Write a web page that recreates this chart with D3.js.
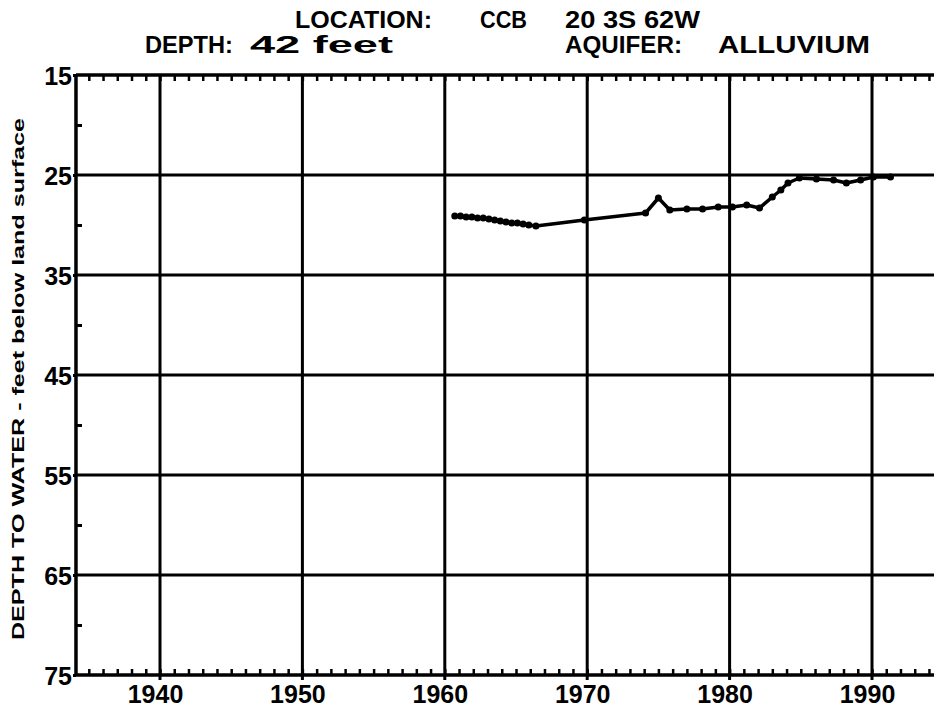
<!DOCTYPE html>
<html>
<head>
<meta charset="utf-8">
<script src="https://cdn.jsdelivr.net/npm/d3@7/dist/d3.min.js"></script>
<style>
  body { margin: 0; background: #fff; }
  svg { display: block; }
  text { font-family: "Liberation Sans", Arial, sans-serif; font-weight: bold; fill: #000; }
</style>
</head>
<body>
<svg id="chart" width="934" height="709"></svg>
<script>
var X_MIN = 1934.1;
var X_MAX = 1995;

// tick values
var decades = [1940, 1950, 1960, 1970, 1980, 1990];
var depthTicks = [15, 25, 35, 45, 55, 65, 75];
var depthMinor = [20, 30, 40, 50, 60, 70];
var years = d3.range(1935, 1995);

var obsYear = [1960.7, 1961.1, 1961.5, 1961.9, 1962.3, 1962.7, 1963.1, 1963.5, 1963.9,
    1964.3, 1964.7, 1965.1, 1965.5, 1965.9, 1966.4, 1969.8, 1974.1, 1975.0, 1975.8,
    1977.0, 1978.1, 1979.2, 1980.2, 1981.2, 1982.1, 1983.0, 1983.6, 1984.1, 1984.9,
    1986.1, 1987.3, 1988.2, 1989.2, 1990.1, 1991.3];
var obsDepth = [29.1, 29.1, 29.2, 29.2, 29.3, 29.3, 29.4, 29.5, 29.6,
    29.7, 29.8, 29.8, 29.9, 30.0, 30.1, 29.5, 28.8, 27.3, 28.5,
    28.4, 28.4, 28.2, 28.2, 28.0, 28.3, 27.2, 26.5, 25.8, 25.3,
    25.4, 25.5, 25.8, 25.5, 25.2, 25.2];

// title pieces: text, left, right, baseline
var titleParts = [
    ["LOCATION:", 295, 432, 28],
    ["CCB", 480, 527, 28],
    ["20 3S 62W", 565, 700, 28],
    ["DEPTH:", 145, 233, 53],
    ["42 feet", 250, 393, 53],
    ["AQUIFER:", 565, 682, 53],
    ["ALLUVIUM", 718, 870, 53]
];
var yTitle = "DEPTH TO WATER - feet below land surface";

var svg = d3.select("#chart");

var x = d3.scaleLinear().domain([1940, 1990]).range([160, 872]);
var y = d3.scaleLinear().domain([15, 75]).range([75, 675]);

var plotLeft = x(X_MIN), plotRight = x(X_MAX);
var plotTop = y(15), plotBottom = y(75);

// grid lines
svg.append("g").selectAll("line")
    .data(depthTicks.slice(1, -1))
    .enter().append("line")
    .attr("x1", plotLeft).attr("x2", plotRight)
    .attr("y1", function(d){ return y(d); })
    .attr("y2", function(d){ return y(d); })
    .style("stroke", "#000").style("stroke-width", 3);

svg.append("g").selectAll("line")
    .data(decades)
    .enter().append("line")
    .attr("x1", function(d){ return x(d); })
    .attr("x2", function(d){ return x(d); })
    .attr("y1", plotTop).attr("y2", plotBottom + 5)
    .style("stroke", "#000").style("stroke-width", 3);

// minor year ticks along top and bottom
var topTicks = svg.append("g")
    .attr("transform", "translate(0," + plotTop + ")")
    .call(d3.axisTop(x).tickValues(years).tickSize(-6).tickFormat(""));
var botTicks = svg.append("g")
    .attr("transform", "translate(0," + plotBottom + ")")
    .call(d3.axisBottom(x).tickValues(years).tickSize(-6).tickFormat(""));
[topTicks, botTicks].forEach(function(g){
    g.select(".domain").remove();
    g.selectAll("line").style("stroke", "#000").style("stroke-width", 2.5);
});

// frame
svg.append("line").attr("x1", plotLeft).attr("x2", plotRight).attr("y1", plotTop).attr("y2", plotTop)
    .style("stroke", "#000").style("stroke-width", 3.5);
svg.append("line").attr("x1", plotLeft).attr("x2", plotRight).attr("y1", plotBottom).attr("y2", plotBottom)
    .style("stroke", "#000").style("stroke-width", 3.5);
svg.append("line").attr("x1", plotLeft).attr("x2", plotLeft).attr("y1", plotTop).attr("y2", plotBottom)
    .style("stroke", "#000").style("stroke-width", 3.5);

// left axis: labels and minor ticks
var yAxis = svg.append("g")
    .attr("transform", "translate(" + plotLeft + ",0)")
    .call(d3.axisLeft(y).tickValues(depthTicks).tickSize(3).tickPadding(1));
yAxis.select(".domain").remove();
yAxis.selectAll("line").style("stroke", "#000").style("stroke-width", 3);
yAxis.selectAll("text")
    .style("font-size", "25px")
    .attr("dy", "0.36em");

var yMinor = svg.append("g")
    .attr("transform", "translate(" + plotLeft + ",0)")
    .call(d3.axisRight(y).tickValues(depthMinor).tickSize(6).tickFormat(""));
yMinor.select(".domain").remove();
yMinor.selectAll("line").style("stroke", "#000").style("stroke-width", 3);

// bottom axis labels
var xAxis = svg.append("g")
    .attr("transform", "translate(0," + plotBottom + ")")
    .call(d3.axisBottom(x).tickValues(decades).tickSize(0).tickPadding(10).tickFormat(d3.format("d")));
xAxis.select(".domain").remove();
xAxis.selectAll("text")
    .style("font-size", "25px")
    .attr("dx", "-5");

// data line
var line = d3.line()
    .x(function(d){ return x(d[0]); })
    .y(function(d){ return y(d[1]); });
var pts = obsYear.map(function(yr, i){ return [yr, obsDepth[i]]; });

svg.append("path")
    .datum(pts)
    .attr("d", line)
    .style("fill", "none")
    .style("stroke", "#000")
    .style("stroke-width", 3.5)
    .style("stroke-linejoin", "round");

svg.append("g").selectAll("circle")
    .data(pts)
    .enter().append("circle")
    .attr("cx", function(d){ return x(d[0]); })
    .attr("cy", function(d){ return y(d[1]); })
    .attr("r", 3.5)
    .style("fill", "#000");

// title
svg.append("g").selectAll("text")
    .data(titleParts)
    .enter().append("text")
    .attr("x", function(d){ return d[1]; })
    .attr("y", function(d){ return d[3]; })
    .attr("textLength", function(d){ return d[2] - d[1]; })
    .attr("lengthAdjust", "spacingAndGlyphs")
    .style("font-size", "23px")
    .text(function(d){ return d[0]; });

// y axis title
svg.append("text")
    .attr("transform", "translate(24,640) rotate(-90)")
    .attr("textLength", 522)
    .attr("lengthAdjust", "spacingAndGlyphs")
    .style("font-size", "17px")
    .text(yTitle);
</script>
</body>
</html>
